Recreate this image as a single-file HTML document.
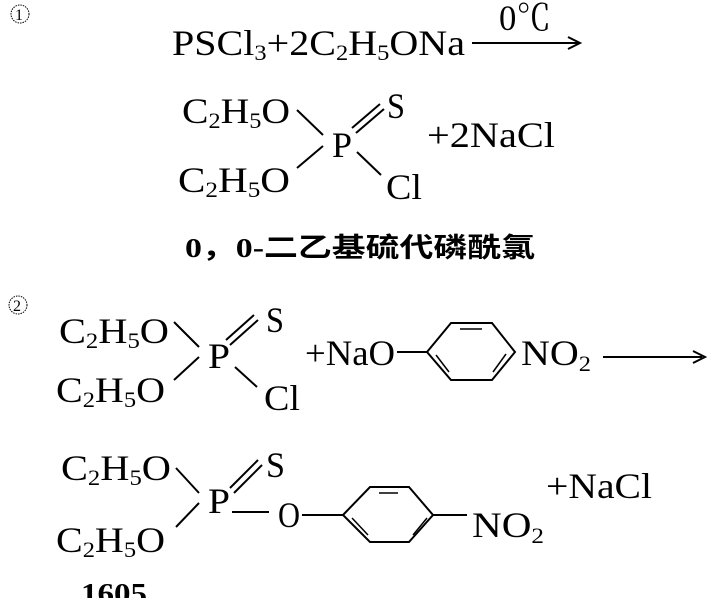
<!DOCTYPE html>
<html><head><meta charset="utf-8"><style>
html,body{margin:0;padding:0;background:#fff;}
svg{display:block;}
text{font-family:"Liberation Serif","Noto Serif CJK SC",serif;fill:#000;}
.cn{font-family:"Liberation Serif","Noto Sans CJK SC",sans-serif;font-weight:bold;}
</style></head><body>
<svg width="708" height="598" viewBox="0 0 708 598" xmlns="http://www.w3.org/2000/svg">
<g stroke="#000" stroke-width="2" fill="none">
<circle cx="20" cy="14" r="9" stroke-width="1" stroke-dasharray="1.5,1"/>
<circle cx="18" cy="305" r="9" stroke-width="1" stroke-dasharray="1.5,1"/>
<line x1="472" y1="43" x2="578" y2="43"/>
<path d="M568 37 L580 43 L568 49"/>
<line x1="297" y1="110" x2="323" y2="135"/>
<line x1="297" y1="168" x2="323" y2="146"/>
<line x1="352" y1="128" x2="380" y2="104"/>
<line x1="356" y1="133" x2="384" y2="109"/>
<line x1="357" y1="152" x2="381" y2="175"/>
<line x1="174" y1="322" x2="199" y2="347"/>
<line x1="174" y1="380" x2="199" y2="357"/>
<line x1="226" y1="340" x2="254" y2="315"/>
<line x1="230" y1="345" x2="258" y2="320"/>
<line x1="235" y1="367" x2="257" y2="387"/>
<line x1="397" y1="352" x2="427" y2="352"/>
<polygon points="427,352 451,323 492,323 515,352 492,380 451,380"/>
<line x1="460" y1="329" x2="482" y2="329" stroke-width="1.5"/>
<line x1="436" y1="355" x2="449" y2="372" stroke-width="1.5"/>
<line x1="493" y1="372" x2="506" y2="354" stroke-width="1.5"/>
<line x1="603" y1="357" x2="702" y2="357"/>
<path d="M693 351 L705 357 L693 363"/>
<line x1="176" y1="468" x2="199" y2="493"/>
<line x1="176" y1="527" x2="199" y2="503"/>
<line x1="230" y1="488" x2="258" y2="460"/>
<line x1="234" y1="493" x2="262" y2="465"/>
<line x1="232" y1="512" x2="269" y2="512"/>
<line x1="302" y1="515" x2="343" y2="515"/>
<polygon points="343,515 370,487 409,487 433,515 409,542 370,542"/>
<line x1="379" y1="493" x2="398" y2="493" stroke-width="1.5"/>
<line x1="352" y1="518" x2="368" y2="535" stroke-width="1.5"/>
<line x1="413" y1="535" x2="427" y2="518" stroke-width="1.5"/>
<line x1="433" y1="515" x2="467" y2="515"/>
</g>
<g font-size="36">
<text x="15" y="20" font-size="16">1</text>
<text x="13" y="311" font-size="16">2</text>
<text x="172" y="55" textLength="293" lengthAdjust="spacingAndGlyphs">PSCl<tspan font-size="22" dy="5">3</tspan><tspan dy="-5">+2C</tspan><tspan font-size="22" dy="5">2</tspan><tspan dy="-5">H</tspan><tspan font-size="22" dy="5">5</tspan><tspan dy="-5">ONa</tspan></text>
<text x="499" y="30" textLength="52" lengthAdjust="spacingAndGlyphs">0℃</text>
<text x="182" y="123" textLength="108" lengthAdjust="spacingAndGlyphs">C<tspan font-size="22" dy="5">2</tspan><tspan dy="-5">H</tspan><tspan font-size="22" dy="5">5</tspan><tspan dy="-5">O</tspan></text>
<text x="178" y="192" textLength="112" lengthAdjust="spacingAndGlyphs">C<tspan font-size="22" dy="5">2</tspan><tspan dy="-5">H</tspan><tspan font-size="22" dy="5">5</tspan><tspan dy="-5">O</tspan></text>
<text x="387" y="118" textLength="18" lengthAdjust="spacingAndGlyphs">S</text>
<text x="332" y="157" textLength="20" lengthAdjust="spacingAndGlyphs">P</text>
<text x="386" y="199" textLength="36" lengthAdjust="spacingAndGlyphs">Cl</text>
<text x="427" y="147" textLength="128" lengthAdjust="spacingAndGlyphs">+2NaCl</text>
<text class="cn" x="185" y="257" font-size="27" textLength="350" lengthAdjust="spacingAndGlyphs">0，0-二乙基硫代磷酰氯</text>
<text x="59" y="343" textLength="110" lengthAdjust="spacingAndGlyphs">C<tspan font-size="22" dy="5">2</tspan><tspan dy="-5">H</tspan><tspan font-size="22" dy="5">5</tspan><tspan dy="-5">O</tspan></text>
<text x="56" y="402" textLength="109" lengthAdjust="spacingAndGlyphs">C<tspan font-size="22" dy="5">2</tspan><tspan dy="-5">H</tspan><tspan font-size="22" dy="5">5</tspan><tspan dy="-5">O</tspan></text>
<text x="266" y="332" textLength="18" lengthAdjust="spacingAndGlyphs">S</text>
<text x="208" y="368" textLength="22" lengthAdjust="spacingAndGlyphs">P</text>
<text x="264" y="410" textLength="36" lengthAdjust="spacingAndGlyphs">Cl</text>
<text x="305" y="365" textLength="90" lengthAdjust="spacingAndGlyphs">+NaO</text>
<text x="521" y="365" textLength="70" lengthAdjust="spacingAndGlyphs">NO<tspan font-size="22" dy="6">2</tspan></text>
<text x="61" y="480" textLength="110" lengthAdjust="spacingAndGlyphs">C<tspan font-size="22" dy="5">2</tspan><tspan dy="-5">H</tspan><tspan font-size="22" dy="5">5</tspan><tspan dy="-5">O</tspan></text>
<text x="56" y="552" textLength="109" lengthAdjust="spacingAndGlyphs">C<tspan font-size="22" dy="5">2</tspan><tspan dy="-5">H</tspan><tspan font-size="22" dy="5">5</tspan><tspan dy="-5">O</tspan></text>
<text x="266" y="477" textLength="19" lengthAdjust="spacingAndGlyphs">S</text>
<text x="208" y="513" textLength="22" lengthAdjust="spacingAndGlyphs">P</text>
<text x="278" y="527" textLength="22" lengthAdjust="spacingAndGlyphs">O</text>
<text x="472" y="537" textLength="72" lengthAdjust="spacingAndGlyphs">NO<tspan font-size="22" dy="6">2</tspan></text>
<text x="546" y="498" textLength="106" lengthAdjust="spacingAndGlyphs">+NaCl</text>
<text x="81" y="603" font-size="28" font-weight="bold" textLength="66" lengthAdjust="spacingAndGlyphs">1605</text>
</g>
</svg>
</body></html>
